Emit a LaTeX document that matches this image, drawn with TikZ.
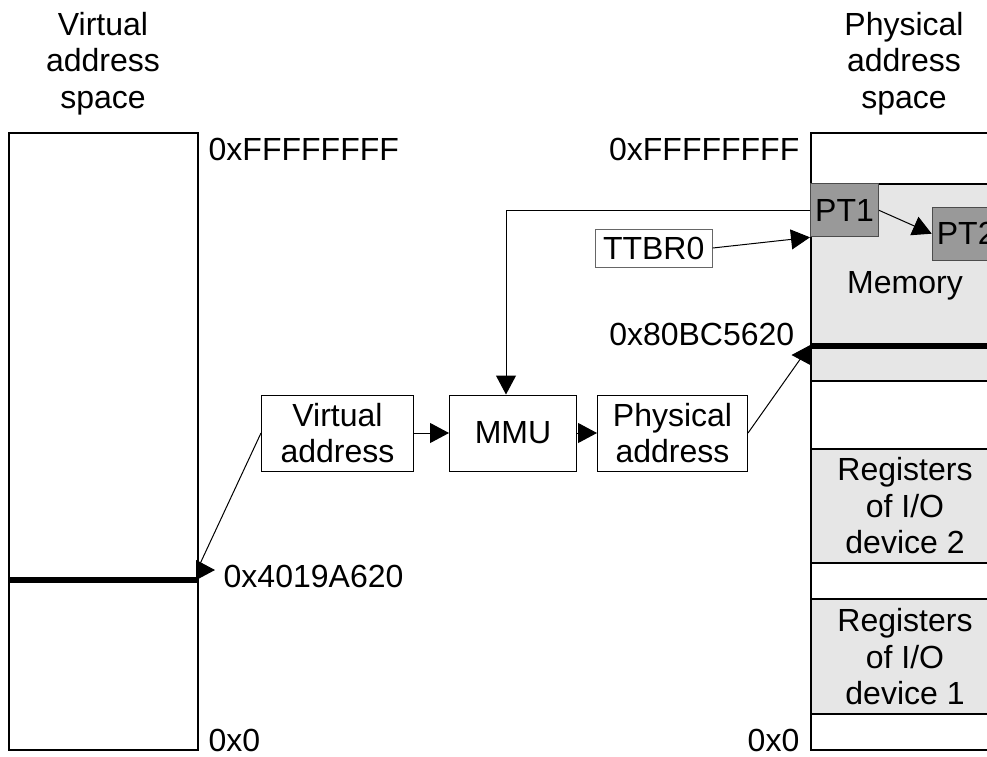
\documentclass[tikz,border=0pt]{standalone}
\usepackage{fontspec}
\setmainfont{Liberation Sans}
\usetikzlibrary{arrows.meta,positioning}
\definecolor{memgray}{HTML}{E6E6E6}
\definecolor{ptgray}{HTML}{999999}

\begin{document}
\begin{tikzpicture}[x=1pt, y=-1pt,
    every node/.style={font=\fontsize{32}{36.5}\selectfont},
    box/.style={rectangle, draw, line width=1pt, minimum height=76pt, inner sep=0pt, align=center},
    addrspace/.style={rectangle, draw, line width=2pt, anchor=north west, minimum height=617.5pt, inner sep=0pt},
    region/.style={rectangle, draw, line width=2pt, fill=memgray, anchor=north west, minimum width=188pt, inner sep=0pt, align=center},
    ptbox/.style={rectangle, draw=black!70, line width=1pt, fill=ptgray, anchor=north west, minimum width=68pt, minimum height=53pt, inner sep=0pt},
    addrlabel/.style={inner sep=0pt},
    conn/.style={line width=1pt, -{Triangle[length=19pt,width=20pt]}},
    bar/.style={line width=6pt}]
    \useasboundingbox (0,0) rectangle (987,756);

    % headings
    \node [align=center, anchor=north, inner sep=0pt] (vhead) at (103,12) {Virtual\\address\\space};
    \node [align=center, anchor=north, inner sep=0pt] (phead) at (904,12) {Physical\\address\\space};

    % the two address spaces
    \node [addrspace, minimum width=189pt] (vspace) at (8,131.5) {};
    \node [addrspace, minimum width=188pt] (pspace) at (810,131.5) {};
    \node [region, minimum height=196.7pt, text depth=0pt] (mem) at (810,183.3) {Memory};
    \node [region, minimum height=113.4pt] (io2) at (810,448.3) {Registers\\of I/O\\device 2};
    \node [region, minimum height=115pt] (io1) at (810,598.3) {Registers\\of I/O\\device 1};
    \node [ptbox] (pt1) at (810,183.3) {PT1};
    \node [ptbox] (pt2) at (931.7,206.7) {PT2};

    \draw [bar] (8,580) -- (197,580);
    \draw [bar] (810,346) -- (998,346);

    % address labels
    \node [addrlabel, anchor=base west] (vtop) at (208.5,160) {0xFFFFFFFF};
    \node [addrlabel, anchor=base east] (ptop) at (799.5,160) {0xFFFFFFFF};
    \node [addrlabel, anchor=base west] (vbot) at (208.5,751) {0x0};
    \node [addrlabel, anchor=base east] (pbot) at (799.5,751) {0x0};
    \node [addrlabel, anchor=base west] (vaddr) at (223.5,587) {0x4019A620};
    \node [addrlabel, anchor=base east] (paddr) at (794.5,345) {0x80BC5620};

    % translation path
    \node [box, minimum width=152pt] (va) at (337.5,433) {Virtual\\address};
    \node [box, minimum width=127pt, right=35pt of va] (mmu) {MMU};
    \node [box, minimum width=150pt, right=20pt of mmu] (pa) {Physical\\address};
    \node [box, draw=black!60, minimum width=117pt, minimum height=38pt] (ttbr) at (653.7,248) {TTBR0};

    \coordinate (vend) at (199,566);
    \coordinate (vtip) at (215,570);
    \coordinate (pend) at (801,358);
    \coordinate (ptip) at (791.5,355);

    \draw [line width=1pt] (va.west) -- (vend);
    \draw [conn] (vtip -| vspace.east) -- (vtip);
    \draw [line width=1pt] (pa.east) -- (pend);
    \draw [conn] (ptip -| pspace.west) -- (ptip);
    \draw [conn] (va) -- (mmu);
    \draw [conn] (mmu) -- (pa);
    \draw [conn] (pt1.west) -| ([xshift=-7pt]mmu.north);
    \draw [conn] (ttbr.east) -- (pt1.south west);
    \draw [conn] (pt1.east) -- (pt2.west);
\end{tikzpicture}
\end{document}
